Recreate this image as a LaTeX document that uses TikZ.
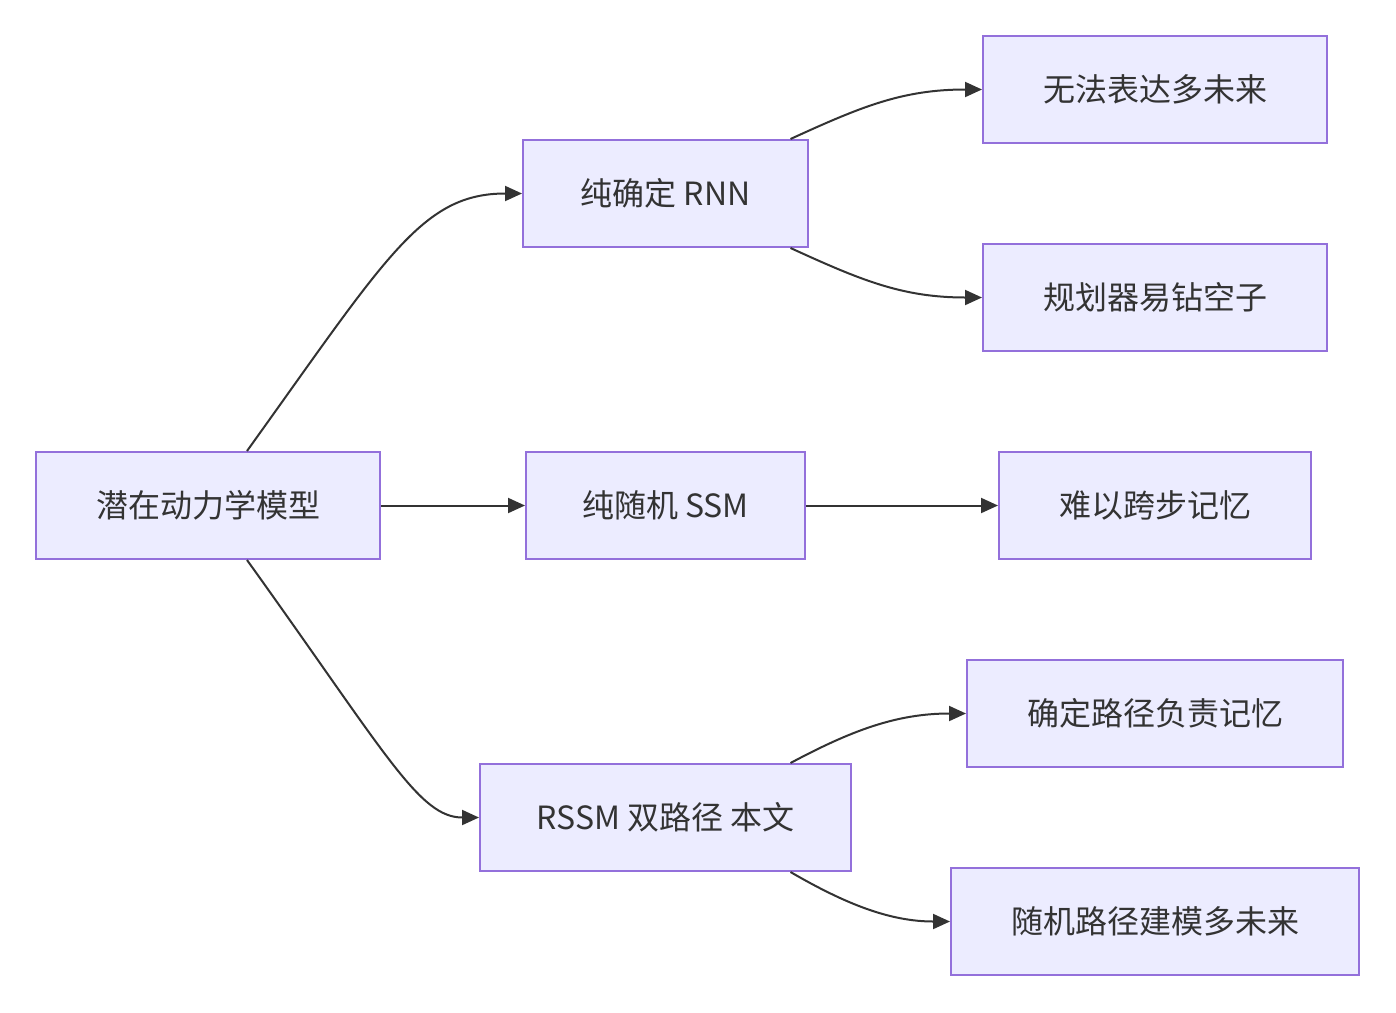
\documentclass[tikz,border=0pt]{standalone}
\usepackage{fontspec}
\setmainfont{Noto Sans CJK SC}
\usetikzlibrary{arrows.meta}
\definecolor{mmFill}{HTML}{ECECFF}
\definecolor{mmLine}{HTML}{9370DB}
\definecolor{mmText}{HTML}{333333}
\tikzset{
  mmBox/.style={draw=mmLine, fill=mmFill, line width=2pt, minimum height=107pt,
    inner sep=0pt, text=mmText, font=\fontsize{32}{38}\selectfont},
  mmEdge/.style={draw=mmText, line width=2pt, -{Triangle[length=17pt,width=15pt]}}
}

\begin{document}
\begin{tikzpicture}[x=1pt,y=-1pt]
\useasboundingbox (0,0) rectangle (1396,1012);
\node[mmBox, minimum width=344pt] (root) at (208,505.5) {潜在动力学模型};
\node[mmBox, minimum width=285pt] (rnn) at (665.5,193.5) {纯确定 RNN};
\node[mmBox, minimum width=279pt] (ssm) at (665.5,505.5) {纯随机 SSM};
\node[mmBox, minimum width=371pt] (rssm) at (665.5,817.5) {RSSM 双路径 本文};
\node[mmBox, minimum width=344pt] (rnnA) at (1155,89.5) {无法表达多未来};
\node[mmBox, minimum width=344pt] (rnnB) at (1155,297.5) {规划器易钻空子};
\node[mmBox, minimum width=312pt] (ssmA) at (1155,505.5) {难以跨步记忆};
\node[mmBox, minimum width=376pt] (rssmA) at (1155,713.5) {确定路径负责记忆};
\node[mmBox, minimum width=408pt] (rssmB) at (1155,921.5) {随机路径建模多未来};
% root to the three models
\draw[mmEdge] ([xshift=39pt]root.north) .. controls +(140,-195) and +(-100,0) .. (rnn.west);
\draw[mmEdge] (root.east) -- (ssm.west);
\draw[mmEdge] ([xshift=39pt]root.south) .. controls +(140,195) and +(-60,0) .. (rssm.west);
% models to their outcomes
\draw[mmEdge] ([xshift=125pt]rnn.north) .. controls +(70,-32) and +(-80,0) .. (rnnA.west);
\draw[mmEdge] ([xshift=125pt]rnn.south) .. controls +(70,32) and +(-80,0) .. (rnnB.west);
\draw[mmEdge] (ssm.east) -- (ssmA.west);
\draw[mmEdge] ([xshift=125pt]rssm.north) .. controls +(60,-32) and +(-70,0) .. (rssmA.west);
\draw[mmEdge] ([xshift=125pt]rssm.south) .. controls +(55,32) and +(-60,0) .. (rssmB.west);
\end{tikzpicture}
\end{document}
